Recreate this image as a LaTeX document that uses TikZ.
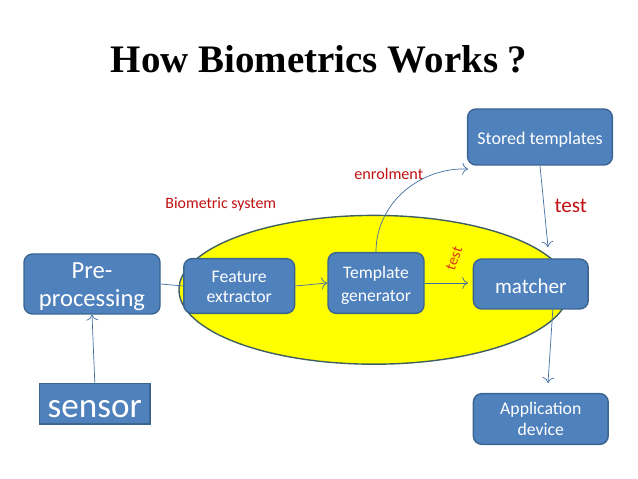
\documentclass[tikz,border=0pt]{standalone}
\usepackage{fontspec}
\usetikzlibrary {shapes.geometric}
\usetikzlibrary {arrows.meta}
\setmainfont{Carlito}
\newfontfamily\titlefont{Liberation Serif}
\definecolor{boxblue}{HTML}{4F81BD}
\definecolor{boxline}{HTML}{3B648F}
\definecolor{ringline}{HTML}{3F6060}
\definecolor{ringfill}{HTML}{FFFF00}
\definecolor{labelred}{HTML}{C01010}
\definecolor{testred}{HTML}{DC3A10}
\newcommand{\lift}[1]{\rule{0pt}{#1}}
\tikzset{
    block/.style={draw=boxline, line width=1pt, fill=boxblue, text=white, rounded corners=6pt, inner sep=0pt, align=center, minimum width=#1},
    link/.style={-{To[scale=1.5]}, boxblue!85!black, line width=0.5pt},
    redtext/.style={text=labelred, inner sep=0pt},
}
\begin{document}
\begin{tikzpicture}
    \useasboundingbox (0,0) rectangle (15.95,11.975);
    \node [font=\titlefont\bfseries\fontsize{27.7}{32}\selectfont] (title) at (7.98,10.5) {How Biometrics Works ?};
    \node [ellipse, draw=ringline, line width=1pt, fill=ringfill, minimum width=9.75cm, minimum height=3.72cm, inner sep=0pt] (system) at (9.35,4.73) {};
    \node [block=3.4cm, minimum height=1.5cm, font=\fontsize{17.5}{20}\selectfont] (prep) at (2.3,4.875) {\lift{0.55cm}Pre-\\processing};
    \node [block=2.77cm, minimum height=1.37cm, font=\fontsize{12.6}{14.3}\selectfont] (feature) at (5.98,4.825) {\lift{0.33cm}Feature\\extractor};
    \node [block=2.4cm, minimum height=1.52cm, font=\fontsize{12.5}{16}\selectfont] (template) at (9.4,4.9) {\lift{0.43cm}Template\\generator};
    \node [block=2.87cm, minimum height=1.25cm, font=\fontsize{15}{18}\selectfont, text height=0.47cm] (matcher) at (13.27,4.875) {matcher};
    \node [block=3.62cm, minimum height=1.4cm, font=\fontsize{12.8}{15}\selectfont, text height=0.45cm] (stored) at (13.5,8.55) {Stored templates};
    \node [block=3.37cm, minimum height=1.27cm, font=\fontsize{12.6}{15.5}\selectfont] (device) at (13.52,1.5) {Application\\device};
    \node [block=2.77cm, minimum height=1.02cm, rounded corners=0pt, font=\fontsize{25}{28}\selectfont, text height=0.67cm] (sensor) at (2.37,1.88) {sensor};
    \node [redtext, font=\fontsize{11.5}{13}\selectfont] (enrolment) at (9.72,7.63) {enrolment};
    \node [redtext, font=\fontsize{11.3}{13}\selectfont] (bio) at (5.52,6.86) {Biometric system};
    \node [redtext, font=\fontsize{15}{16}\selectfont] (testa) at (14.27,6.82) {test};
    \node [redtext, text=testred, rotate=70, font=\fontsize{11}{13}\selectfont] (testb) at (11.35,5.52) {test};
    \coordinate (enrolend) at (11.7,7.75);
    \coordinate (storedend) at (13.7,5.8);
    \coordinate (deviceend) at (13.7,2.4);
    \coordinate (matcherend) at (11.7,4.9);
    \draw [link] (sensor.north) -- (prep.south);
    \draw [boxblue!85!black, line width=0.5pt] (prep.east) -- (feature.west);
    \draw [link] (feature.east) -- (template.west);
    \draw [link] (template.east) -- (matcherend);
    \draw [link] (template.north) to [out=90,in=178] (enrolend);
    \draw [link] (stored.south) -- (storedend);
    \draw [link] (matcher.south) ++(0.55,0) coordinate (matcherfoot) -- (deviceend);
\end{tikzpicture}
\end{document}
